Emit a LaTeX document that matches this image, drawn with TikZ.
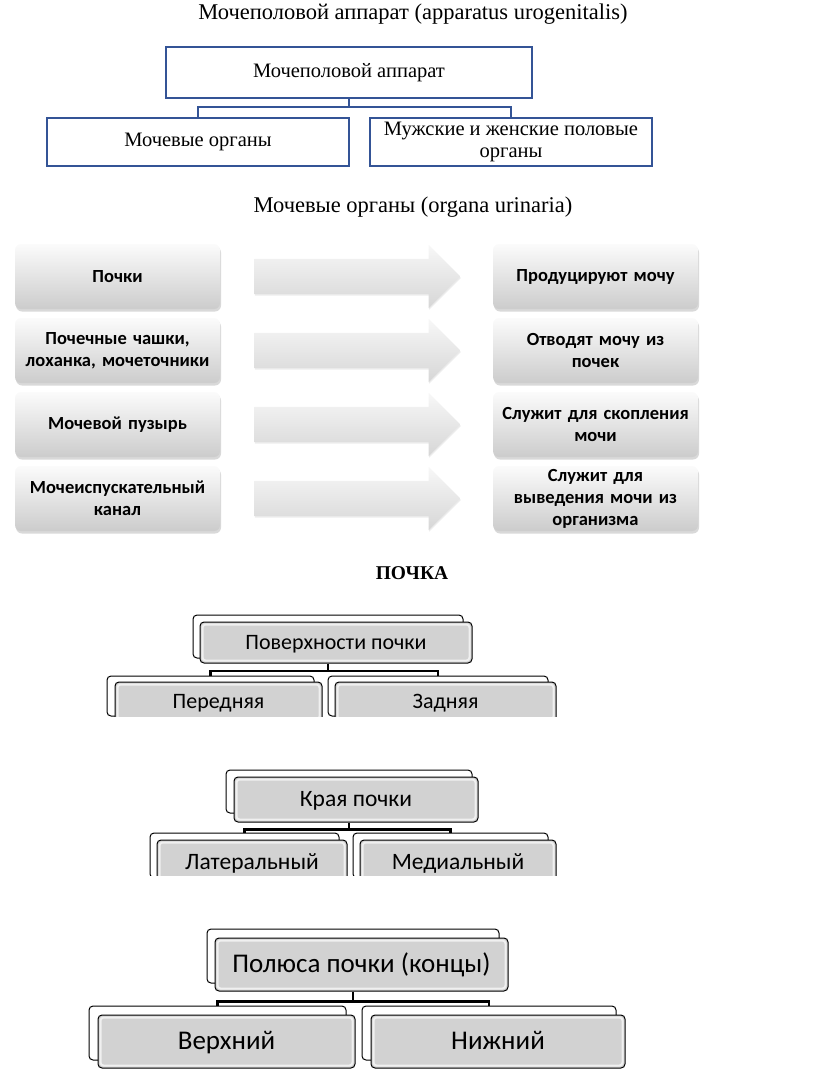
\documentclass[tikz,border=0pt]{standalone}
\usepackage{fontspec}
\setmainfont{Liberation Serif}
\newfontfamily\calibri{Carlito}
\definecolor{boxblue}{RGB}{52,84,150}
\usetikzlibrary{positioning,calc,shapes.arrows,shadows}

\begin{document}
\begin{tikzpicture}
	[x=1pt,y=-1pt,
	 bluebox/.style={draw=boxblue,line width=2.2pt,fill=white,align=center,inner sep=0pt,font=\fontsize{20.5}{22}\selectfont},
	 gradbox/.style={rounded corners=6pt,top color=gray!3,bottom color=gray!40,minimum width=205pt,minimum height=65pt,text width=200pt,align=center,inner sep=0pt,
	   drop shadow={opacity=0.3,shadow xshift=1pt,shadow yshift=-2.5pt},font=\calibri\bfseries\fontsize{18.5}{22}\selectfont},
	 blockarrow/.style={single arrow,single arrow head extend=14pt,minimum height=206pt,text height=17.5pt,text depth=17.5pt,inner sep=0pt,anchor=tail,
	   top color=gray!6,bottom color=gray!32,drop shadow={opacity=0.15,shadow xshift=0.5pt,shadow yshift=-1.5pt}},
	 backbox/.style={draw,line width=1pt,fill=white,rounded corners=4pt,inner sep=0pt},
	 frontbox/.style={draw,line width=1pt,fill=gray!35,rounded corners=4pt,inner sep=0pt,text depth=0pt,
	   path picture={\draw[gray!12,line width=2pt,rounded corners=3pt]
	     ([shift={(2.5pt,-2.5pt)}]path picture bounding box.north west) rectangle ([shift={(-2.5pt,2.5pt)}]path picture bounding box.south east);}},
	 conn/.style={draw,line width=2.4pt}]

	\useasboundingbox (0,0) rectangle (816,1082);

	% apparatus urogenitalis
	\node[font=\fontsize{22.5}{26}\selectfont] (title) at (413,14) {Мочеполовой аппарат (apparatus urogenitalis)};
	\node[bluebox,minimum width=366pt,minimum height=51pt] (app) at (349,72.5) {Мочеполовой аппарат};
	\node[bluebox,minimum width=302pt,minimum height=48pt] (moch) at (198,142) {Мочевые органы};
	\node[bluebox,minimum width=282pt,minimum height=48pt] (pol) at (511,142) {Мужские и женские половые\\органы};
	\draw[boxblue,line width=2.2pt] (app.south) -- ++(0,8) -| (moch.north);
	\draw[boxblue,line width=2.2pt] (app.south) -- ++(0,8) -| (pol.north);

	% organa urinaria
	\node[font=\fontsize{22.5}{26}\selectfont] (sub) at (413,207) {Мочевые органы (organa urinaria)};
	\node[gradbox] (pochki) at (117.5,276.5) {Почки};
	\node[gradbox] (chashki) at (117.5,350.5) {Почечные чашки,\\лоханка, мочеточники};
	\node[gradbox] (puzyr) at (117.5,424.5) {Мочевой пузырь};
	\node[gradbox] (kanal) at (117.5,498.5) {Мочеиспускательный\\канал};
	\node[gradbox] (prod) at (595.5,276.5) {Продуцируют мочу};
	\node[gradbox] (otvod) at (595.5,350.5) {Отводят мочу из\\почек};
	\node[gradbox] (skopl) at (595.5,424.5) {Служит для скопления\\мочи};
	\node[gradbox] (vyved) at (595.5,498.5) {Служит для\\выведения мочи из\\организма};
	\node[blockarrow] (a1) at ([xshift=34pt]pochki.east) {};
	\node[blockarrow] (a2) at ([xshift=34pt]chashki.east) {};
	\node[blockarrow] (a3) at ([xshift=34pt]puzyr.east) {};
	\node[blockarrow] (a4) at ([xshift=34pt]kanal.east) {};

	\node[font=\bfseries\fontsize{19.5}{22}\selectfont] (pochka) at (412,573) {ПОЧКА};

	% surfaces
	\begin{scope}[font=\calibri\fontsize{22}{26}\selectfont,text height=13.6pt]
	\clip (0,600) rectangle (816,716);
	\node[backbox,minimum width=270pt,minimum height=43pt] (pov-b) at (328,636.5) {};
	\node[frontbox,minimum width=272pt,minimum height=41pt] (pov) at (336,642.5) {Поверхности почки};
	\node[backbox,minimum width=207pt,minimum height=40pt] (per-b) at (210.5,696) {};
	\node[frontbox,minimum width=207pt,minimum height=40pt] (per) at (218.5,702) {Передняя};
	\node[backbox,minimum width=220pt,minimum height=40pt] (zad-b) at (438,696) {};
	\node[frontbox,minimum width=221pt,minimum height=40pt] (zad) at (445.5,702) {Задняя};
	\draw[conn] (pov-b.south |- pov.south) -- ++(0,7.5) -| (per-b.north);
	\draw[conn] (pov-b.south |- pov.south) -- ++(0,7.5) -| (zad-b.north);
	\end{scope}

	% borders
	\begin{scope}[font=\calibri\fontsize{23.5}{27}\selectfont,text height=14.6pt]
	\clip (0,760) rectangle (816,875);
	\node[backbox,minimum width=246pt,minimum height=43pt] (kray-b) at (349,791.5) {};
	\node[frontbox,minimum width=244pt,minimum height=45pt] (kray) at (356,799.5) {Края почки};
	\node[backbox,minimum width=189pt,minimum height=45pt] (lat-b) at (244.5,855.5) {};
	\node[frontbox,minimum width=190pt,minimum height=45pt] (lat) at (252,862.5) {Латеральный};
	\node[backbox,minimum width=195pt,minimum height=45pt] (med-b) at (450.5,855.5) {};
	\node[frontbox,minimum width=196pt,minimum height=45pt] (med) at (458,862.5) {Медиальный};
	\draw[conn] (kray-b.south |- kray.south) -- ++(0,7) -| (lat-b.north);
	\draw[conn] (kray-b.south |- kray.south) -- ++(0,7) -| (med-b.north);
	\end{scope}

	% poles
	\begin{scope}[font=\calibri\fontsize{27}{31}\selectfont,text height=16.7pt]
	\node[backbox,minimum width=292pt,minimum height=54pt] (poly-b) at (353,956) {};
	\node[frontbox,minimum width=293pt,minimum height=53pt] (poly) at (361.5,964.5) {Полюса почки (концы)};
	\node[backbox,minimum width=257pt,minimum height=54pt] (verh-b) at (217.5,1033) {};
	\node[frontbox,minimum width=257pt,minimum height=53pt] (verh) at (226.5,1041.5) {Верхний};
	\node[backbox,minimum width=254pt,minimum height=54pt] (nizh-b) at (489,1033) {};
	\node[frontbox,minimum width=254pt,minimum height=53pt] (nizh) at (498,1041.5) {Нижний};
	\draw[conn] (poly-b.south |- poly.south) -- ++(0,10) -| (verh-b.north);
	\draw[conn] (poly-b.south |- poly.south) -- ++(0,10) -| (nizh-b.north);
	\end{scope}

\end{tikzpicture}
\end{document}
